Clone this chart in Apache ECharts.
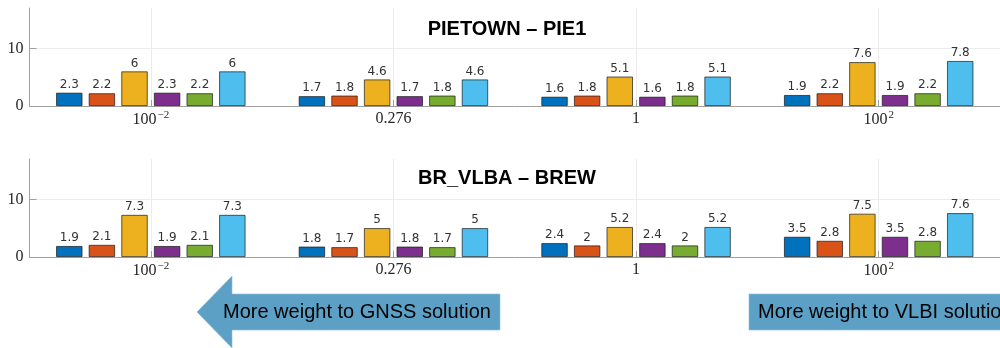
<!DOCTYPE html>
<html>
<head>
<meta charset="utf-8">
<script src="https://cdn.jsdelivr.net/npm/echarts@6/dist/echarts.min.js"></script>
<style>
  html, body { margin: 0; padding: 0; background: #fff; }
  #chart { width: 1000px; height: 348px; }
</style>
</head>
<body>
<div id="chart"></div>
<script>
// Weighting factors on the x axis (shown as 100^-2, 0.276, 1, 100^2)
const categories = ['0.01', '0.276', '1', '100'];
const tickBase = ['100', '0.276', '1', '100'];
const tickExp = ['\u22122', '', '', '2'];

const panelTitles = ['PIETOWN \u2013 PIE1', 'BR_VLBA \u2013 BREW'];

// PIETOWN – PIE1: one array per bar colour, one value per weighting factor
const pietown1 = [2.3, 1.7, 1.6, 1.9];
const pietown2 = [2.2, 1.8, 1.8, 2.2];
const pietown3 = [6, 4.6, 5.1, 7.6];
const pietown4 = [2.3, 1.7, 1.6, 1.9];
const pietown5 = [2.2, 1.8, 1.8, 2.2];
const pietown6 = [6, 4.6, 5.1, 7.8];

// BR_VLBA – BREW
const brew1 = [1.9, 1.8, 2.4, 3.5];
const brew2 = [2.1, 1.7, 2, 2.8];
const brew3 = [7.3, 5, 5.2, 7.5];
const brew4 = [1.9, 1.8, 2.4, 3.5];
const brew5 = [2.1, 1.7, 2, 2.8];
const brew6 = [7.3, 5, 5.2, 7.6];

const yTicks = { min: 0, max: 17, interval: 10 };

const palette = ['#0072BD', '#D95319', '#EDB120', '#7E2F8E', '#77AC30', '#4DBEEE'];
const panels = [
  [pietown1, pietown2, pietown3, pietown4, pietown5, pietown6],
  [brew1, brew2, brew3, brew4, brew5, brew6]
];

const axisGray = '#a0a0a0';
const gridGray = '#ececec';
const serif = 'Liberation Serif';
const sans = 'Liberation Sans';

const grids = [
  { left: 29.5, width: 978, top: 8, height: 98 },
  { left: 29.5, width: 978, top: 159, height: 98 }
];

const xAxes = grids.map((g, i) => ({
  type: 'category',
  gridIndex: i,
  data: categories,
  axisLine: { lineStyle: { color: axisGray, width: 1 } },
  axisTick: { show: true, inside: true, alignWithLabel: true, length: 6, lineStyle: { color: axisGray } },
  splitLine: { show: false },
  axisLabel: {
    margin: 4,
    formatter: (v, idx) => tickExp[idx] ? '{b|' + tickBase[idx] + '}{s|' + tickExp[idx] + '}' : '{b|' + tickBase[idx] + '}',
    rich: {
      b: { fontFamily: serif, fontSize: 16, color: '#262626', lineHeight: 18 },
      s: { fontFamily: serif, fontSize: 11, color: '#262626', verticalAlign: 'top', padding: [0, 0, 8, 1] }
    }
  }
}));

const yAxes = grids.map((g, i) => ({
  type: 'value',
  gridIndex: i,
  min: yTicks.min,
  max: yTicks.max,
  interval: yTicks.interval,
  axisLine: { show: true, lineStyle: { color: axisGray, width: 1 } },
  axisTick: { show: true, inside: true, length: 7, lineStyle: { color: axisGray } },
  splitLine: { show: true, showMinLine: false, showMaxLine: false, lineStyle: { color: gridGray, width: 1 } },
  axisLabel: {
    margin: 6,
    fontFamily: serif,
    fontSize: 16,
    color: '#262626',
    showMaxLabel: false
  }
}));

const series = [];
panels.forEach((sets, p) => {
  // vertical grid lines through each weighting factor, drawn beneath the bars
  series.push({
    type: 'line',
    name: 'grid',
    xAxisIndex: p,
    yAxisIndex: p,
    data: [],
    z: 0,
    silent: true,
    markLine: {
      silent: true,
      z: 0,
      symbol: 'none',
      label: { show: false },
      lineStyle: { color: gridGray, type: 'solid', width: 1 },
      data: categories.map(c => ({ xAxis: c }))
    }
  });
  sets.forEach((vals, k) => {
    series.push({
      type: 'bar',
      name: 'Series ' + (k + 1),
      xAxisIndex: p,
      yAxisIndex: p,
      data: vals,
      barWidth: 26.3,
      barGap: '24%',
      itemStyle: { color: palette[k], borderColor: 'rgba(20,20,20,0.85)', borderWidth: 0.8 },
      label: {
        show: true,
        position: 'top',
        distance: 2,
        fontFamily: 'DejaVu Sans',
        fontSize: 12,
        color: '#333'
      },
      emphasis: { disabled: true }
    });
  });
});

const titles = panelTitles.map((t, i) => ({
  text: t,
  left: 507,
  top: i === 0 ? 19 : 168,
  padding: 0,
  textAlign: 'center',
  textStyle: { fontFamily: sans, fontSize: 20, fontWeight: 'bold', color: '#000' }
}));

const arrowBlue = '#5CA0C5';
const graphic = [
  {
    type: 'polygon',
    shape: { points: [[197, 312], [232, 276], [232, 294], [500, 294], [500, 330], [232, 330], [232, 348]] },
    style: { fill: arrowBlue, stroke: '#8fc0da', lineWidth: 0.6 }
  },
  {
    type: 'text',
    x: 223, y: 312,
    style: { text: 'More weight to GNSS solution', font: '20px "Liberation Sans"', fill: '#000', verticalAlign: 'middle', align: 'left' }
  },
  {
    type: 'polygon',
    shape: { points: [[749, 294], [1060, 294], [1060, 276], [1096, 312], [1060, 348], [1060, 330], [749, 330]] },
    style: { fill: arrowBlue, stroke: '#8fc0da', lineWidth: 0.6 }
  },
  {
    type: 'text',
    x: 758, y: 312,
    style: { text: 'More weight to VLBI solution', font: '20px "Liberation Sans"', fill: '#000', verticalAlign: 'middle', align: 'left' }
  }
];

const chart = echarts.init(document.getElementById('chart'), null, { renderer: 'canvas' });
chart.setOption({
  animation: false,
  backgroundColor: '#fff',
  title: titles,
  grid: grids,
  xAxis: xAxes,
  yAxis: yAxes,
  series: series,
  graphic: graphic
});
</script>
</body>
</html>
